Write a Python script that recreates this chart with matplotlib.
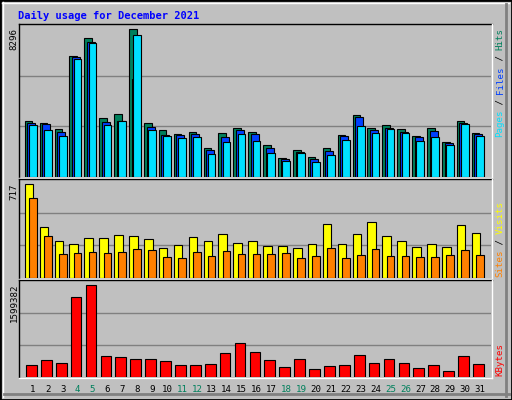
import numpy as np
import matplotlib.pyplot as plt
from matplotlib.patches import Rectangle
from matplotlib.lines import Line2D

days = list(range(1, 32))
weekend = [4, 5, 11, 12, 18, 19, 25, 26]

hits = [3172, 3059, 2722, 6776, 7790, 3341, 3566, 8296, 3059, 2665, 2440, 2553, 1652, 2496, 2778, 2553,
        1821, 1089, 1539, 1145, 1652, 2384, 3510, 2778, 2947, 2722, 2327, 2778, 1990, 3172, 2496]
files = [3059, 3003, 2553, 6720, 7600, 3116, 3172, 5481, 2834, 2384, 2384, 2440, 1539, 2271, 2665, 2440,
         1652, 1032, 1427, 1032, 1483, 2327, 3397, 2665, 2778, 2553, 2271, 2609, 1933, 3059, 2440]
pages = [2947, 2665, 2327, 6607, 7508, 2947, 3172, 7958, 2665, 2327, 2215, 2271, 1314, 1990, 2440, 2046,
         1370, 920, 1370, 863, 1258, 2102, 2891, 2496, 2722, 2496, 2046, 2271, 1821, 3003, 2327]
visits = [717, 391, 282, 259, 305, 305, 329, 321, 298, 228, 251, 313, 282, 336, 267, 282,
          243, 243, 228, 259, 414, 259, 336, 430, 321, 282, 236, 259, 236, 406, 344]
sites = [616, 321, 181, 189, 197, 189, 197, 220, 212, 158, 150, 197, 166, 204, 181, 181,
         181, 189, 150, 166, 228, 150, 173, 220, 166, 166, 158, 158, 173, 212, 173]
kbytes = [216000, 286000, 251000, 1389000, 1599382, 356000, 339000, 304000, 304000, 269000, 216000,
          216000, 233000, 409000, 584000, 426000, 286000, 181000, 304000, 146000, 198000, 216000,
          374000, 251000, 304000, 251000, 163000, 216000, 111000, 356000, 233000]

W, H = 512, 400
BG = '#c0c0c0'
MONO = 'DejaVu Sans Mono'
FS = 6.6
PX = 14.9  # pixels per day


def fx(px):
    return px / W


def fy(py):
    return 1 - py / H


fig = plt.figure(figsize=(5.12, 4.0), dpi=100, facecolor=BG)

# outer frame
fig.add_artist(Rectangle((0, 0), 1, 1, transform=fig.transFigure, fill=False, ec='black', lw=2))
fig.add_artist(Line2D([fx(2), fx(509)], [fy(3), fy(3)], transform=fig.transFigure, color='white', lw=1))
fig.add_artist(Line2D([fx(3), fx(3)], [fy(2), fy(397)], transform=fig.transFigure, color='white', lw=1))
fig.add_artist(Line2D([fx(4), fx(509)], [fy(394), fy(394)], transform=fig.transFigure, color='#808080', lw=2))
fig.add_artist(Line2D([fx(506), fx(506)], [fy(4), fy(396)], transform=fig.transFigure, color='#808080', lw=2))

fig.text(fx(18), fy(16), 'Daily usage for December 2021', color='#0000ff', family=MONO,
         weight='bold', fontsize=7.5, va='center')


def panel(top, bottom, ymax, series, maxlabel):
    ax = fig.add_axes([fx(20), fy(bottom), fx(491) - fx(20), fy(top) - fy(bottom)])
    ax.set_facecolor(BG)
    ax.set_xlim(1 - 13 / PX, 1 + 458 / PX)
    ax.set_ylim(0, ymax)
    for k in (1, 2):
        ax.axhline(ymax * k / 3, color='#808080', lw=1, zorder=0)
    x = np.array(days)
    for vals, color, l, r in series:
        ax.bar(x + l / PX, vals, width=(r - l) / PX, align='edge', color=color,
               edgecolor='black', linewidth=0.8, zorder=2)
    for s in ax.spines.values():
        s.set_visible(False)
    ax.set_xticks([])
    ax.set_yticks([])
    # bevel
    fig.add_artist(Line2D([fx(19), fx(492)], [fy(top - 1), fy(top - 1)], transform=fig.transFigure, color='black', lw=1))
    fig.add_artist(Line2D([fx(19), fx(19)], [fy(top - 1), fy(bottom)], transform=fig.transFigure, color='black', lw=1))
    fig.add_artist(Line2D([fx(19), fx(492)], [fy(bottom + 1), fy(bottom + 1)], transform=fig.transFigure, color='white', lw=1))
    fig.add_artist(Line2D([fx(492), fx(492)], [fy(top - 1), fy(bottom + 1)], transform=fig.transFigure, color='white', lw=1))
    fig.text(fx(14), fy(top + 3), maxlabel, rotation=90, family=MONO, fontsize=FS,
             ha='center', va='top', color='black')
    return ax


def side_label(parts, bottom_px, char_px=5.45):
    # parts: list of (text, color), drawn bottom to top
    pos = bottom_px
    for text, color in parts:
        n = len(text)
        fig.text(fx(500), fy(pos - n * char_px / 2), text, rotation=90, family=MONO,
                 fontsize=FS, color=color, ha='center', va='center')
        pos -= n * char_px


panel(25, 177, 8296 * 455 / 442, [
    (hits, '#00805c', -8.3, -0.7),
    (files, '#0040ff', -5.7, 2.3),
    (pages, '#00e0ff', -4, 3.7),
], '8296')

panel(180, 278, 717 * 290 / 277, [
    (visits, '#ffff00', -8.3, 0.3),
    (sites, '#ff8000', -4, 3.7),
], '717')

panel(281, 377, 1599382 * 285 / 274, [
    (kbytes, '#ff0000', -7, 3.7),
], '1599382')

side_label([('Pages', '#00e0ff'), (' / ', '#000000'), ('Files', '#0040ff'),
            (' / ', '#000000'), ('Hits', '#00805c')], 137)
side_label([('Sites', '#ff8000'), (' / ', '#000000'), ('Visits', '#ffff00')], 277)
side_label([('KBytes', '#ff0000')], 376)

for d in days:
    color = '#00805c' if d in weekend else 'black'
    fig.text(fx(33 + (d - 1) * PX), fy(389), str(d), family=MONO, fontsize=FS,
             color=color, ha='center', va='center')

fig.savefig('out.png', dpi=100, facecolor=BG)
